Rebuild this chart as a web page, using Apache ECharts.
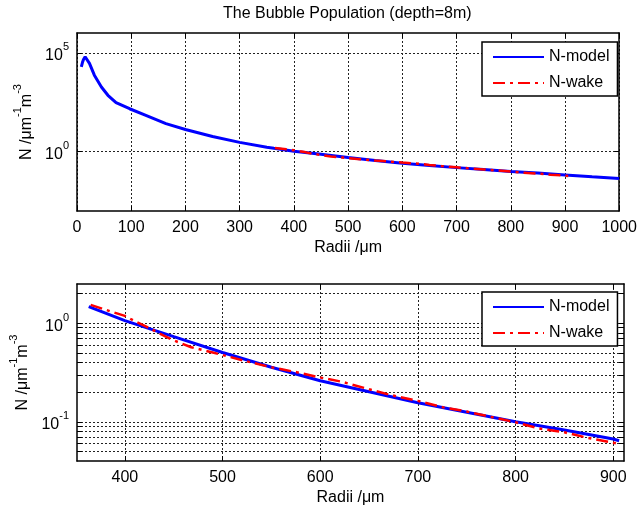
<!DOCTYPE html>
<html>
<head>
<meta charset="utf-8">
<script src="https://cdn.jsdelivr.net/npm/echarts@6/dist/echarts.min.js"></script>
<style>
  html, body { margin: 0; padding: 0; background: #fff; }
  #chart { width: 640px; height: 507px; }
</style>
</head>
<body>
<div id="chart"></div>
<script>
// full-range model curve (top panel)
const radiiModel = [8, 10, 12, 15, 18, 23, 32, 45, 57, 72, 97, 127, 164, 200, 250, 300, 350, 363, 400, 450, 500, 550, 600, 650, 700, 750, 800, 850, 900, 950, 1000];
const nModel = [1.95e4, 3.2e4, 4.6e4, 6.3e4, 5.4e4, 2.9e4, 7.4e3, 1.86e3, 710, 300, 148, 68, 26, 13.2, 5.8, 2.95, 1.66, 1.476, 1.062, 0.731, 0.504, 0.357, 0.261, 0.202, 0.156, 0.125, 0.100, 0.0826, 0.0668, 0.0537, 0.0437];

// model curve over the zoomed range (bottom panel)
const radiiZoom = [363, 400, 450, 500, 550, 600, 650, 700, 750, 800, 850, 900, 906];
const nModelZoom = [1.476, 1.062, 0.731, 0.504, 0.357, 0.261, 0.202, 0.156, 0.125, 0.100, 0.0826, 0.0668, 0.0643];

// wake measurements
const radiiWake = [365, 386, 400, 411, 422, 447, 468, 490, 500, 522, 550, 576, 600, 622, 650, 672, 700, 726, 750, 773, 800, 823, 850, 873, 900, 906];
const nWake = [1.535, 1.312, 1.186, 1.038, 0.923, 0.689, 0.570, 0.504, 0.476, 0.417, 0.357, 0.318, 0.281, 0.255, 0.214, 0.187, 0.163, 0.140, 0.127, 0.113, 0.0989, 0.0859, 0.0782, 0.0690, 0.0614, 0.0596];

const topTicksY = [1, 1e5];
const bottomGridY = [0.05, 0.06, 0.07, 0.08, 0.09, 0.1, 0.2, 0.3, 0.4, 0.5, 0.6, 0.7, 0.8, 0.9, 1, 2];
const bottomLabelsY = [0.1, 1];
const bottomTicksX = [400, 500, 600, 700, 800, 900];

const FONT = 'Liberation Sans, Arial, sans-serif';
const pairs = (xs, ys) => xs.map((x, i) => [x, ys[i]]);

const chart = echarts.init(document.getElementById('chart'));

const dotted = { color: '#222', type: [2, 2], width: 1 };
const axisLine = { show: true, onZero: false, lineStyle: { color: '#000', width: 1.5 } };
const tick = { show: true, inside: true, length: 5, lineStyle: { color: '#000', width: 1 } };
const superRich = {
  b: { fontSize: 16, fontFamily: FONT, color: '#000', verticalAlign: 'bottom', lineHeight: 22 },
  s: { fontSize: 11, fontFamily: FONT, color: '#000', verticalAlign: 'top', lineHeight: 22 }
};
const powLabel = v => '{b|10}{s|' + Math.round(Math.log10(v)) + '}';
const yName = '{b|N /μm}{s|-1}{b|m}{s|-3}';
const xLabel = { fontSize: 16, color: '#000', fontFamily: FONT, margin: 9, formatter: v => String(v) };

function xMain(grid, min, max, extra) {
  return Object.assign({
    type: 'value', gridIndex: grid, min: min, max: max, position: 'bottom',
    axisLine: axisLine, axisTick: tick, axisLabel: xLabel,
    splitLine: { show: true, lineStyle: dotted },
    name: 'Radii /μm', nameLocation: 'middle', nameGap: 29,
    nameTextStyle: { fontSize: 16, color: '#000', fontFamily: FONT }
  }, extra);
}
function xMirror(grid, min, max, extra) {
  return Object.assign({
    type: 'value', gridIndex: grid, min: min, max: max, position: 'top',
    axisLine: axisLine, axisTick: tick, axisLabel: { show: false }, splitLine: { show: false }
  }, extra);
}
function yMain(grid, min, max, ticks, labels) {
  return {
    type: 'log', logBase: 10, gridIndex: grid, min: min, max: max, position: 'left',
    axisLine: axisLine,
    axisTick: Object.assign({ customValues: ticks }, tick),
    axisLabel: { customValues: labels, formatter: powLabel, rich: superRich, margin: 8 },
    splitLine: { show: true, lineStyle: dotted },
    name: yName, nameLocation: 'middle', nameRotate: 90, nameGap: 37,
    nameTextStyle: { rich: superRich }
  };
}
function yMirror(grid, min, max, ticks) {
  return {
    type: 'log', logBase: 10, gridIndex: grid, min: min, max: max, position: 'right',
    axisLine: axisLine,
    axisTick: Object.assign({ customValues: ticks }, tick),
    axisLabel: { show: false }, splitLine: { show: false }
  };
}
function legendBox(top) {
  return {
    data: ['N-model', 'N-wake'], orient: 'vertical', left: 482, top: top,
    padding: [7, 8, 5, 10], itemWidth: 51, itemHeight: 14, itemGap: 10, itemTextGap: 5,
    backgroundColor: '#fff', borderColor: '#000', borderWidth: 1.5, borderRadius: 0,
    selectedMode: false,
    itemStyle: { opacity: 0 },
    textStyle: { fontSize: 16, color: '#000', fontFamily: FONT }
  };
}

const modelStyle = { color: '#0000ff', width: 3 };
const wakeStyle = { color: '#ff0000', width: 2.5, type: [12, 5, 3, 5] };

chart.setOption({
  animation: false,
  textStyle: { fontFamily: FONT },
  title: {
    text: 'The Bubble Population (depth=8m)', left: 223, top: 6, padding: 0,
    textStyle: { fontSize: 16, fontWeight: 'normal', color: '#000', fontFamily: FONT }
  },
  legend: [legendBox(42), legendBox(292)],
  grid: [
    { left: 77, right: 17, top: 33, height: 178 },
    { left: 77, right: 16, top: 284, height: 177 }
  ],
  xAxis: [
    xMain(0, 0, 1000, { interval: 100 }),
    xMirror(0, 0, 1000, { interval: 100 }),
    xMain(1, 351, 911, { axisTick: Object.assign({ customValues: bottomTicksX }, tick), axisLabel: Object.assign({ customValues: bottomTicksX }, xLabel) }),
    xMirror(1, 351, 911, { axisTick: Object.assign({ customValues: bottomTicksX }, tick) })
  ],
  yAxis: [
    yMain(0, 1e-3, 1e6, topTicksY, topTicksY),
    yMirror(0, 1e-3, 1e6, topTicksY),
    yMain(1, 0.04, 2.5, bottomGridY, bottomLabelsY),
    yMirror(1, 0.04, 2.5, bottomGridY)
  ],
  series: [
    { name: 'N-model', type: 'line', xAxisIndex: 0, yAxisIndex: 0, data: pairs(radiiModel, nModel), symbol: 'none', lineStyle: modelStyle, itemStyle: { color: '#0000ff' }, z: 2 },
    { name: 'N-wake', type: 'line', xAxisIndex: 0, yAxisIndex: 0, data: pairs(radiiWake, nWake), symbol: 'none', lineStyle: wakeStyle, itemStyle: { color: '#ff0000' }, z: 3 },
    { name: 'N-model', type: 'line', xAxisIndex: 2, yAxisIndex: 2, data: pairs(radiiZoom, nModelZoom), symbol: 'none', lineStyle: modelStyle, itemStyle: { color: '#0000ff' }, z: 2 },
    { name: 'N-wake', type: 'line', xAxisIndex: 2, yAxisIndex: 2, data: pairs(radiiWake, nWake), symbol: 'none', lineStyle: wakeStyle, itemStyle: { color: '#ff0000' }, z: 3 }
  ]
});
</script>
</body>
</html>
